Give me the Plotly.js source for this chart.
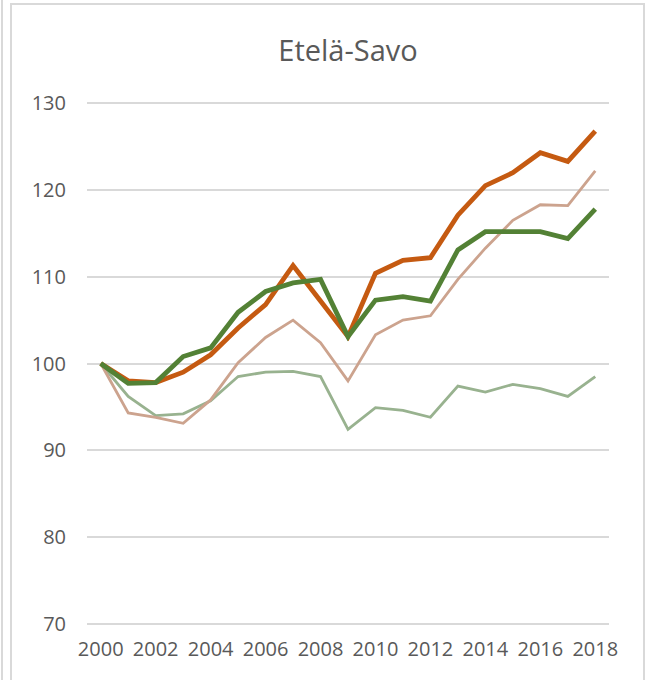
<!DOCTYPE html>
<html>
<head>
<meta charset="utf-8">
<script src="https://cdn.plot.ly/plotly-3.0.1.min.js"></script>
<style>
  html, body { margin: 0; padding: 0; background: #ffffff; }
  #wrap { position: relative; width: 648px; height: 680px; overflow: hidden; }
  #chart { position: absolute; left: 0; top: 0; width: 648px; height: 680px; }
  .frame { position: absolute; background: #d9d9d9; pointer-events: none; }
</style>
</head>
<body>
<div id="wrap">
  <div id="chart"></div>
  <div class="frame" style="left:1px; top:0; width:2px; height:680px;"></div>
  <div class="frame" style="left:10px; top:3px; width:2px; height:677px;"></div>
  <div class="frame" style="left:10px; top:3px; width:635px; height:2px;"></div>
  <div class="frame" style="left:643px; top:3px; width:2px; height:677px;"></div>
</div>
<script>
const years = [2000, 2001, 2002, 2003, 2004, 2005, 2006, 2007, 2008, 2009,
               2010, 2011, 2012, 2013, 2014, 2015, 2016, 2017, 2018];
const tickYears = [2000, 2002, 2004, 2006, 2008, 2010, 2012, 2014, 2016, 2018];
const yTicks = [70, 80, 90, 100, 110, 120, 130];
const titleText = "Etelä-Savo";

const seriesOrange = [100, 98.0, 97.8, 99.0, 101.0, 104.1, 106.8, 111.3, 107.2, 103.1,
                      110.4, 111.9, 112.2, 117.1, 120.5, 122.0, 124.3, 123.3, 126.8];
const seriesGreen = [100, 97.7, 97.8, 100.8, 101.8, 105.9, 108.3, 109.3, 109.7, 103.1,
                     107.3, 107.7, 107.2, 113.1, 115.2, 115.2, 115.2, 114.4, 117.8];
const seriesLightBrown = [100, 94.3, 93.8, 93.1, 95.8, 100.1, 103.0, 105.0, 102.4, 98.0,
                          103.3, 105.0, 105.5, 109.7, 113.3, 116.5, 118.3, 118.2, 122.2];
const seriesLightGreen = [100, 96.2, 94.0, 94.2, 95.7, 98.5, 99.0, 99.1, 98.5, 92.4,
                          94.9, 94.6, 93.8, 97.4, 96.7, 97.6, 97.1, 96.2, 98.5];

const traces = [
  { x: years, y: seriesLightGreen, type: 'scatter', mode: 'lines',
    line: { color: '#98b28f', width: 2.8 }, hoverinfo: 'skip' },
  { x: years, y: seriesLightBrown, type: 'scatter', mode: 'lines',
    line: { color: '#cca38e', width: 2.8 }, hoverinfo: 'skip' },
  { x: years, y: seriesOrange, type: 'scatter', mode: 'lines',
    line: { color: '#c55a11', width: 4.8 }, hoverinfo: 'skip' },
  { x: years, y: seriesGreen, type: 'scatter', mode: 'lines',
    line: { color: '#538135', width: 4.8 }, hoverinfo: 'skip' }
];

const fontFam = 'Open Sans, Liberation Sans, sans-serif';

const layout = {
  width: 648, height: 680,
  paper_bgcolor: '#ffffff', plot_bgcolor: '#ffffff',
  showlegend: false,
  margin: { l: 87, r: 39, t: 102, b: 55 },
  font: { family: fontFam, color: '#595959' },
  title: {
    text: titleText,
    font: { family: fontFam, size: 29, color: '#595959' },
    x: 0.5, xanchor: 'center', xref: 'paper',
    y: 48, yref: 'container', yanchor: 'middle'
  },
  xaxis: {
    range: [1999.5, 2018.5],
    tickmode: 'array', tickvals: tickYears, ticktext: tickYears.map(String),
    showgrid: false, zeroline: false, showline: false,
    ticks: '', ticklabelstandoff: 10,
    tickfont: { family: fontFam, size: 20, color: '#595959' }
  },
  yaxis: {
    range: [69.85, 130.15],
    tickmode: 'array', tickvals: yTicks, ticktext: yTicks.map(String),
    showgrid: true, gridcolor: '#d9d9d9', gridwidth: 2,
    zeroline: false, showline: false, ticks: '', ticklabelstandoff: 20,
    tickfont: { family: fontFam, size: 20, color: '#595959' }
  }
};

Plotly.newPlot('chart', traces, layout, { staticPlot: true, displayModeBar: false });
</script>
</body>
</html>
